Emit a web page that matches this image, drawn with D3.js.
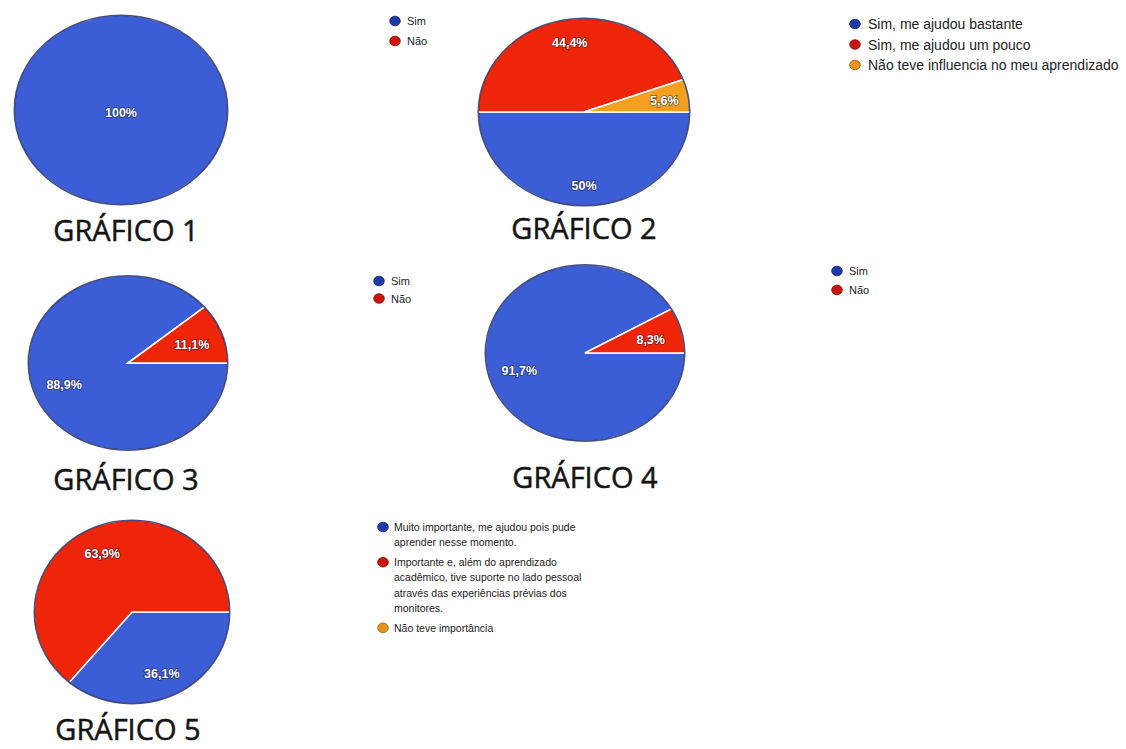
<!DOCTYPE html>
<html>
<head>
<meta charset="utf-8">
<script src="https://cdn.jsdelivr.net/npm/d3@7"></script>
<style>
  html, body { margin: 0; padding: 0; background: #ffffff; }
  svg { display: block; }
</style>
</head>
<body>
<svg id="chart" width="1126" height="749"></svg>
<script>
// ---------- DATA ----------
const chartTitles = ["GRÁFICO 1", "GRÁFICO 2", "GRÁFICO 3", "GRÁFICO 4", "GRÁFICO 5"];

const chart1Labels = ["Sim", "Não"];
const chart1Values = [100, 0];

const chart2Labels = ["Sim, me ajudou bastante", "Sim, me ajudou um pouco", "Não teve influencia no meu aprendizado"];
const chart2Values = [50, 44.4, 5.6];

const chart3Labels = ["Sim", "Não"];
const chart3Values = [88.9, 11.1];

const chart4Labels = ["Sim", "Não"];
const chart4Values = [91.7, 8.3];

const chart5Labels = [
  "Muito importante, me ajudou pois pude\naprender nesse momento.",
  "Importante e, além do aprendizado\nacadêmico, tive suporte no lado pessoal\natravés das experiências prévias dos\nmonitores.",
  "Não teve importância"
];
const chart5Values = [36.1, 63.9, 0];

// ---------- STYLE / LAYOUT ----------
const sliceColors = ["#3b5dd6", "#ef2509", "#f4a01e"];
const dotColors = ["#1f3aa8", "#cc130c", "#e8941a"];

const layouts = [
  { cx: 121, cy: 110, rx: 107, ry: 95, labelK: 0.72, titleX: 126, titleY: 241,
    legendX: 395, legendY: 21, legendGap: 20, legendFont: 11, lineH: 13, textDx: 12 },
  { cx: 584, cy: 112, rx: 106, ry: 94, labelK: 0.77, titleX: 584, titleY: 239,
    legendX: 855, legendY: 24, legendGap: 20.5, legendFont: 14, lineH: 15, textDx: 13 },
  { cx: 128, cy: 363, rx: 100, ry: 87.5, labelK: 0.68, titleX: 126, titleY: 490,
    legendX: 379, legendY: 281, legendGap: 17.5, legendFont: 11, lineH: 13, textDx: 12 },
  { cx: 585, cy: 353, rx: 100, ry: 88.5, labelK: 0.68, titleX: 585, titleY: 488,
    legendX: 837, legendY: 271, legendGap: 19, legendFont: 11, lineH: 13, textDx: 12 },
  { cx: 132, cy: 612, rx: 98, ry: 92, labelK: 0.72, titleX: 128, titleY: 740,
    legendX: 383, legendY: 527, legendGap: 20, legendFont: 10.5, lineH: 15.2, textDx: 11 }
];

const charts = [
  { labels: chart1Labels, values: chart1Values },
  { labels: chart2Labels, values: chart2Values },
  { labels: chart3Labels, values: chart3Values },
  { labels: chart4Labels, values: chart4Values },
  { labels: chart5Labels, values: chart5Values }
];

// ---------- DRAW ----------
const svg = d3.select("#chart");
const R = 100;
const ptLocale = d3.formatLocale({ decimal: ",", thousands: ".", grouping: [3], currency: ["R$", ""] });
const fmt = ptLocale.format(".1~f");

const pie = d3.pie().sort(null).value(d => d.value)
  .startAngle(Math.PI / 2).endAngle(Math.PI / 2 + 2 * Math.PI);
const arc = d3.arc().innerRadius(0).outerRadius(R);
const colorScale = d3.scaleOrdinal().domain([0, 1, 2]).range(sliceColors);
const dotScale = d3.scaleOrdinal().domain([0, 1, 2]).range(dotColors);

charts.forEach((c, ci) => {
  const L = layouts[ci];
  const data = c.values.map((v, i) => ({ value: v, index: i, label: c.labels[i] }));
  const arcs = pie(data).filter(a => a.data.value > 0);
  const sx = L.rx / R, sy = L.ry / R;

  const g = svg.append("g").attr("transform", `translate(${L.cx},${L.cy})`);
  const pg = g.append("g").attr("transform", `scale(${sx},${sy})`);

  pg.selectAll("path.slice").data(arcs).enter().append("path")
    .attr("class", "slice")
    .attr("d", arc)
    .attr("fill", d => colorScale(d.data.index))
    .attr("stroke", "#ffffff")
    .attr("stroke-width", 1.6)
    .attr("vector-effect", "non-scaling-stroke");

  // dark outer rim
  pg.append("circle").attr("r", R - 0.3)
    .attr("fill", "none")
    .attr("stroke", "#1d2458")
    .attr("stroke-opacity", 0.8)
    .attr("stroke-width", 1.6)
    .attr("vector-effect", "non-scaling-stroke");

  // slice labels
  g.selectAll("text.pct").data(arcs).enter().append("text")
    .attr("class", "pct")
    .attr("x", d => {
      if (d.endAngle - d.startAngle >= 2 * Math.PI - 1e-6) return 0;
      const a = (d.startAngle + d.endAngle) / 2;
      return Math.sin(a) * R * L.labelK * sx;
    })
    .attr("y", d => {
      if (d.endAngle - d.startAngle >= 2 * Math.PI - 1e-6) return 3;
      const a = (d.startAngle + d.endAngle) / 2;
      return -Math.cos(a) * R * L.labelK * sy + 2;
    })
    .attr("text-anchor", "middle")
    .attr("dominant-baseline", "central")
    .attr("font-family", "Liberation Sans, Arial, sans-serif")
    .attr("font-weight", "bold")
    .attr("font-size", 12.5)
    .attr("fill", "#ffffff")
    .attr("stroke", "rgba(20,20,40,0.55)")
    .attr("stroke-width", 1.6)
    .attr("paint-order", "stroke")
    .text(d => fmt(d.data.value) + "%");

  // title
  svg.append("text")
    .attr("x", L.titleX).attr("y", L.titleY)
    .attr("text-anchor", "middle")
    .attr("font-family", "Open Sans, sans-serif")
    .attr("font-size", 29)
    .attr("fill", "#141414")
    .attr("stroke", "#141414")
    .attr("stroke-width", 0.5)
    .text(chartTitles[ci]);

  // legend
  const lg = svg.append("g").attr("transform", `translate(${L.legendX},${L.legendY})`);
  let yOff = 0;
  data.forEach((d, i) => {
    const lines = d.label.split("\n");
    const item = lg.append("g").attr("transform", `translate(0,${yOff})`);
    item.append("ellipse").attr("rx", 5.3).attr("ry", 4.8)
      .attr("fill", dotScale(i))
      .attr("stroke", d3.color(dotScale(i)).darker(1.2))
      .attr("stroke-width", 0.8);
    const t = item.append("text")
      .attr("x", L.textDx).attr("y", 0)
      .attr("font-family", "Liberation Sans, Arial, sans-serif")
      .attr("font-size", L.legendFont)
      .attr("fill", "#222222")
      .attr("dominant-baseline", "central");
    lines.forEach((ln, li) => {
      t.append("tspan").attr("x", L.textDx).attr("dy", li === 0 ? 0 : L.lineH).text(ln);
    });
    yOff += (lines.length - 1) * L.lineH + L.legendGap;
  });
});
</script>
</body>
</html>
